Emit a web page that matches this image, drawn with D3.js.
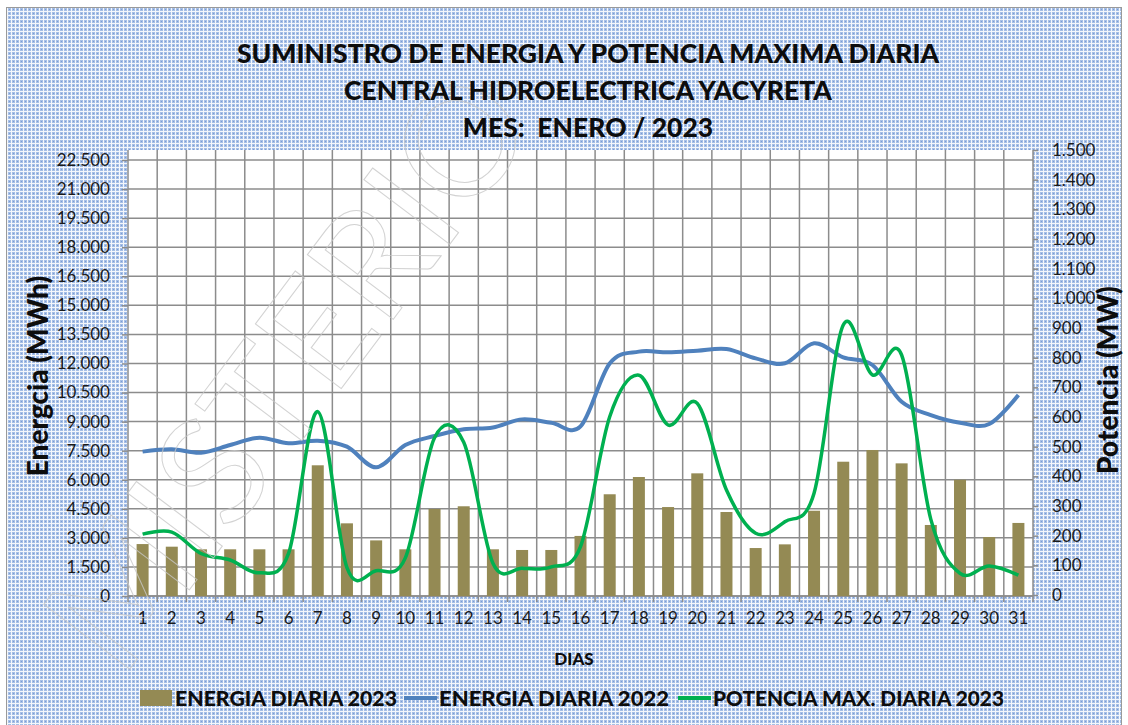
<!DOCTYPE html>
<html>
<head>
<meta charset="utf-8">
<script src="https://cdn.jsdelivr.net/npm/d3@7"></script>
<style>
  body { margin: 0; background: #fff; }
  svg { display: block; font-family: Lato, "Open Sans", sans-serif; }
</style>
</head>
<body>
<div id="chart"></div>
<script>
const days = d3.range(1, 32);
const energia2023 = [2680, 2545, 2410, 2410, 2410, 2410, 6745, 3750, 2870, 2410,
  4490, 4630, 2410, 2375, 2375, 3100, 5250, 6140, 4590, 6330,
  4335, 2475, 2665, 4400, 6930, 7535, 6845, 3665, 6000, 3045, 3770];
const energia2022 = [7450, 7570, 7395, 7790, 8170, 7880, 8015, 7705, 6640, 7790,
  8255, 8600, 8700, 9115, 8940, 8750, 12000, 12610, 12575, 12660,
  12745, 12265, 12010, 13040, 12315, 11920, 10025, 9340, 8945, 8875, 10370];
const potencia2023 = [205, 212, 140, 118, 75, 140, 618, 92, 82, 125,
  530, 515, 107, 90, 95, 163, 601, 741, 573, 646,
  354, 208, 247, 343, 910, 742, 809, 255, 73, 98, 67];
const leftTicks = d3.range(0, 22501, 1500);
const rightTicks = d3.range(0, 1501, 100);
const titleLines = ["SUMINISTRO DE ENERGIA Y POTENCIA MAXIMA DIARIA",
  "CENTRAL HIDROELECTRICA YACYRETA", "MES:  ENERO / 2023"];

const W = 1128, H = 725;
const plot = { left: 128, right: 1033, top: 150, bottom: 596 };
const fmt = v => d3.format(",")(v).replace(/,/g, ".");

const svg = d3.select("#chart").append("svg").attr("width", W).attr("height", H);

// checkered background
const pat = svg.append("defs").append("pattern")
  .attr("id", "checks").attr("width", 4).attr("height", 4)
  .attr("patternUnits", "userSpaceOnUse");
pat.append("rect").attr("width", 4).attr("height", 4).attr("fill", "#a6bfe6");
pat.append("rect").attr("x", 3).attr("width", 1).attr("height", 4).attr("fill", "#f4f7fc");
pat.append("rect").attr("y", 3).attr("width", 4).attr("height", 1).attr("fill", "#f4f7fc");
pat.append("rect").attr("x", 1).attr("y", 1).attr("width", 1).attr("height", 1).attr("fill", "#7b9cd4");

svg.append("rect").attr("width", W).attr("height", H).attr("fill", "#fff");
svg.append("rect").attr("x", 6.5).attr("y", 7.5).attr("width", 1115).attr("height", 720)
  .attr("fill", "url(#checks)").attr("stroke", "#9a9a9a");

const x = d3.scaleBand().domain(days).range([plot.left, plot.right]);
const yL = d3.scaleLinear().domain([0, 22500]).range([596, 160]);
const yR = d3.scaleLinear().domain([0, 1500]).range([595, 150]);

svg.append("rect").attr("x", plot.left).attr("y", plot.top)
  .attr("width", plot.right - plot.left).attr("height", plot.bottom - plot.top)
  .attr("fill", "#fff");

// gridlines
const grid = svg.append("g").attr("stroke", "#8c8c8c").attr("stroke-width", 1.5);
grid.selectAll(".h").data(leftTicks).join("line")
  .attr("x1", plot.left).attr("x2", plot.right)
  .attr("y1", d => yL(d)).attr("y2", d => yL(d));
grid.selectAll(".v").data(days.slice(1)).join("line")
  .attr("x1", d => x(d)).attr("x2", d => x(d))
  .attr("y1", plot.top).attr("y2", plot.bottom);

// axes
const axisL = svg.append("g").attr("transform", `translate(${plot.left},0)`)
  .call(d3.axisLeft(yL).tickValues(leftTicks).tickFormat(fmt).tickSizeOuter(0).tickSize(6).tickPadding(12));
const axisR = svg.append("g").attr("transform", `translate(${plot.right},0)`)
  .call(d3.axisRight(yR).tickValues(rightTicks).tickFormat(fmt).tickSizeOuter(0).tickSize(5).tickPadding(14));
const axisB = svg.append("g").attr("transform", `translate(0,${plot.bottom})`)
  .call(d3.axisBottom(x).tickSize(0).tickPadding(16));
axisB.selectAll(".bt").data(d3.range(0, 32)).join("line").attr("class", "bt")
  .attr("x1", d => plot.left + d * x.step()).attr("x2", d => plot.left + d * x.step())
  .attr("y1", 0).attr("y2", 6).attr("stroke", "#8c8c8c").attr("stroke-width", 1.5);
[axisL, axisR, axisB].forEach(a => {
  a.select(".domain").attr("stroke", "#8c8c8c").attr("stroke-width", 1.5);
  a.selectAll(".tick line").attr("stroke", "#8c8c8c").attr("stroke-width", 1.5);
  a.selectAll("text").attr("fill", "#1a1a1a").attr("font-size", 17)
    .attr("font-family", "Lato, sans-serif");
});
axisB.select(".domain").attr("d", `M${plot.left},0H${plot.right}`);
axisL.select(".domain").attr("d", `M0,${plot.top}V${plot.bottom}`);
axisR.select(".domain").attr("d", `M0,${plot.top}V${plot.bottom}`);

// bars
const bw = 12;
svg.append("g").selectAll("rect").data(days).join("rect")
  .attr("x", d => x(d) + x.step() / 2 - bw / 2)
  .attr("y", (d, i) => yL(energia2023[i]))
  .attr("width", bw)
  .attr("height", (d, i) => yL(0) - yL(energia2023[i]))
  .attr("fill", "#948a54");

const cx = d => x(d) + x.step() / 2;
svg.append("path").datum(days)
  .attr("d", d3.line().x(cx).y((d, i) => yL(energia2022[i])).curve(d3.curveCardinal.tension(0)))
  .attr("fill", "none").attr("stroke", "#4f81bd").attr("stroke-width", 4);
svg.append("path").datum(days)
  .attr("d", d3.line().x(cx).y((d, i) => yR(potencia2023[i])).curve(d3.curveCardinal.tension(0)))
  .attr("fill", "none").attr("stroke", "#00b050").attr("stroke-width", 3.5);

// watermark
svg.append("text").text("MISTERIO")
  .attr("transform", "translate(300,380) rotate(-53)")
  .attr("text-anchor", "middle").attr("dominant-baseline", "middle")
  .attr("font-size", 150).attr("font-family", "Lato, sans-serif")
  .attr("fill", "none").attr("stroke", "#c8c8c8").attr("stroke-width", 1)
  .attr("opacity", 0.8);

// titles
svg.append("g").selectAll("text").data(titleLines).join("text")
  .attr("x", 588).attr("y", (d, i) => 63 + i * 37)
  .attr("text-anchor", "middle").attr("font-weight", 900).attr("font-size", 26.5)
  .style("white-space", "pre")
  .attr("fill", "#0d0d0d").text(d => d);

svg.append("text").attr("transform", "translate(48,376) rotate(-90)")
  .attr("text-anchor", "middle").attr("font-weight", 900).attr("font-size", 28)
  .attr("fill", "#0d0d0d").text("Energcia (MWh)");
svg.append("text").attr("transform", "translate(1118,380) rotate(-90)")
  .attr("text-anchor", "middle").attr("font-weight", 900).attr("font-size", 28)
  .attr("fill", "#0d0d0d").text("Potencia (MW)");
svg.append("text").attr("x", 574).attr("y", 665)
  .attr("text-anchor", "middle").attr("font-weight", 900).attr("font-size", 17)
  .attr("fill", "#0d0d0d").text("DIAS");

// legend
const legend = [
  { name: "ENERGIA DIARIA 2023", color: "#948a54", type: "bar", x: 140 },
  { name: "ENERGIA DIARIA 2022", color: "#4f81bd", type: "line", x: 404 },
  { name: "POTENCIA MAX. DIARIA 2023", color: "#00b050", type: "line", x: 678 }
];
const lg = svg.append("g").selectAll("g").data(legend).join("g")
  .attr("transform", d => `translate(${d.x},698)`);
lg.filter(d => d.type === "bar").append("rect")
  .attr("x", 0).attr("y", -8).attr("width", 32).attr("height", 16).attr("fill", d => d.color);
lg.filter(d => d.type === "line").append("line")
  .attr("x1", 0).attr("x2", 33).attr("stroke", d => d.color).attr("stroke-width", 4);
lg.append("text").attr("x", 35).attr("y", 7.5)
  .attr("font-weight", 900).attr("font-size", 20.5).attr("fill", "#0d0d0d")
  .attr("textLength", (d, i) => [222, 230, 291][i]).attr("lengthAdjust", "spacingAndGlyphs")
  .text(d => d.name);
</script>
</body>
</html>
